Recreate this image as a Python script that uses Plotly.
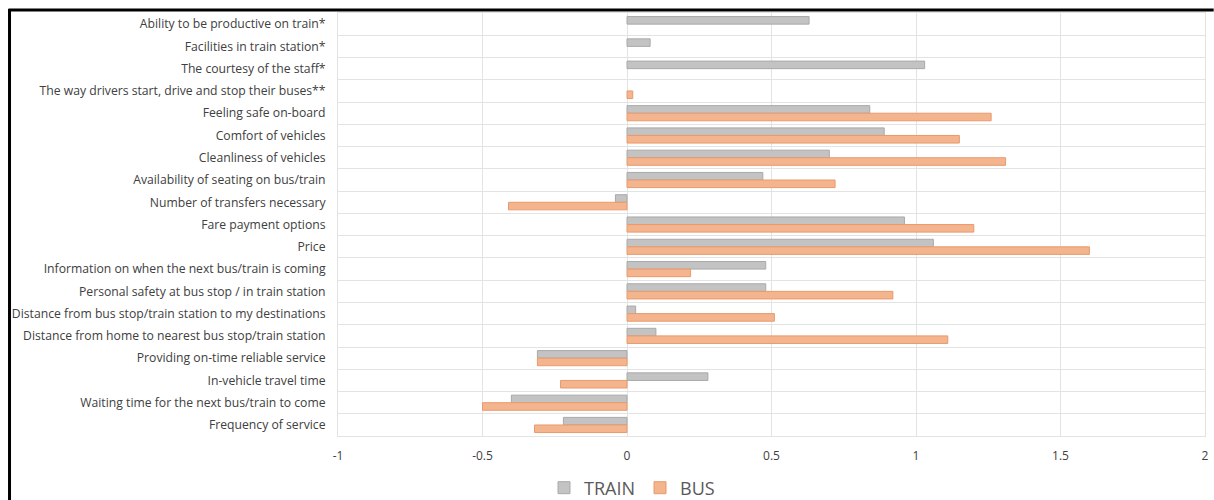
import plotly.graph_objects as go

# Service attributes, listed top to bottom
categories = [
    "Ability to be productive on train*",
    "Facilities in train station*",
    "The courtesy of the staff*",
    "The way drivers start, drive and stop their buses**",
    "Feeling safe on-board",
    "Comfort of vehicles",
    "Cleanliness of vehicles",
    "Availability of seating on bus/train",
    "Number of transfers necessary",
    "Fare payment options",
    "Price",
    "Information on when the next bus/train is coming",
    "Personal safety at bus stop / in train station",
    "Distance from bus stop/train station to my destinations",
    "Distance from home to nearest bus stop/train station",
    "Providing on-time reliable service",
    "In-vehicle travel time",
    "Waiting time for the next bus/train to come",
    "Frequency of service",
]

train = [0.63, 0.08, 1.03, None, 0.84, 0.89, 0.70, 0.47, -0.04, 0.96, 1.06,
         0.48, 0.48, 0.03, 0.10, -0.31, 0.28, -0.40, -0.22]
bus = [None, None, None, 0.02, 1.26, 1.15, 1.31, 0.72, -0.41, 1.20, 1.60,
       0.22, 0.92, 0.51, 1.11, -0.31, -0.23, -0.50, -0.32]

x_ticks = [-1, -0.5, 0, 0.5, 1, 1.5, 2]
x_tick_text = ["-1", "-0.5", "0", "0.5", "1", "1.5", "2"]

fig = go.Figure()
fig.add_trace(go.Bar(
    name="TRAIN", y=categories, x=train, orientation="h",
    marker=dict(color="#C3C3C3", line=dict(color="#A9A9A9", width=1)),
))
fig.add_trace(go.Bar(
    name="BUS", y=categories, x=bus, orientation="h",
    marker=dict(color="#F4B48E", line=dict(color="#E99A6C", width=1)),
))

grid = "#E3E3E3"
fig.update_layout(
    width=1214, height=500,
    margin=dict(l=338, r=5, t=13, b=63),
    paper_bgcolor="white", plot_bgcolor="white",
    barmode="group", bargap=0.32, bargroupgap=0.0,
    font=dict(family="Open Sans", size=12, color="#404040"),
    showlegend=True,
    legend=dict(
        orientation="h", xref="container", yref="container",
        x=632 / 1214, xanchor="center", y=12 / 500, yanchor="middle",
        font=dict(size=18, color="#595959"), itemwidth=30,
        traceorder="normal",
    ),
    xaxis=dict(
        range=[-1, 2], tickvals=x_ticks, ticktext=x_tick_text,
        showgrid=True, gridcolor=grid, gridwidth=1, zeroline=False,
        showline=True, linecolor=grid, mirror=True,
        ticks="", ticklabelstandoff=9,
        tickfont=dict(size=12, color="#404040"),
    ),
    yaxis=dict(
        categoryorder="array", categoryarray=categories,
        autorange="reversed", tickson="boundaries",
        showgrid=True, gridcolor=grid, gridwidth=1,
        showline=True, linecolor=grid, mirror=True,
        ticks="", ticklabelstandoff=9,
        tickfont=dict(size=12.2, color="#404040"),
    ),
)

# Black frame along the top and left edges
fig.add_shape(type="line", xref="paper", yref="paper",
              x0=-331 / 871, x1=1.01, y0=1 + 3 / 424, y1=1 + 3 / 424,
              line=dict(color="black", width=3))
fig.add_shape(type="line", xref="paper", yref="paper",
              x0=-330 / 871, x1=-330 / 871, y0=1 + 4 / 424, y1=-0.2,
              line=dict(color="black", width=3))

fig.write_html("out.html")
